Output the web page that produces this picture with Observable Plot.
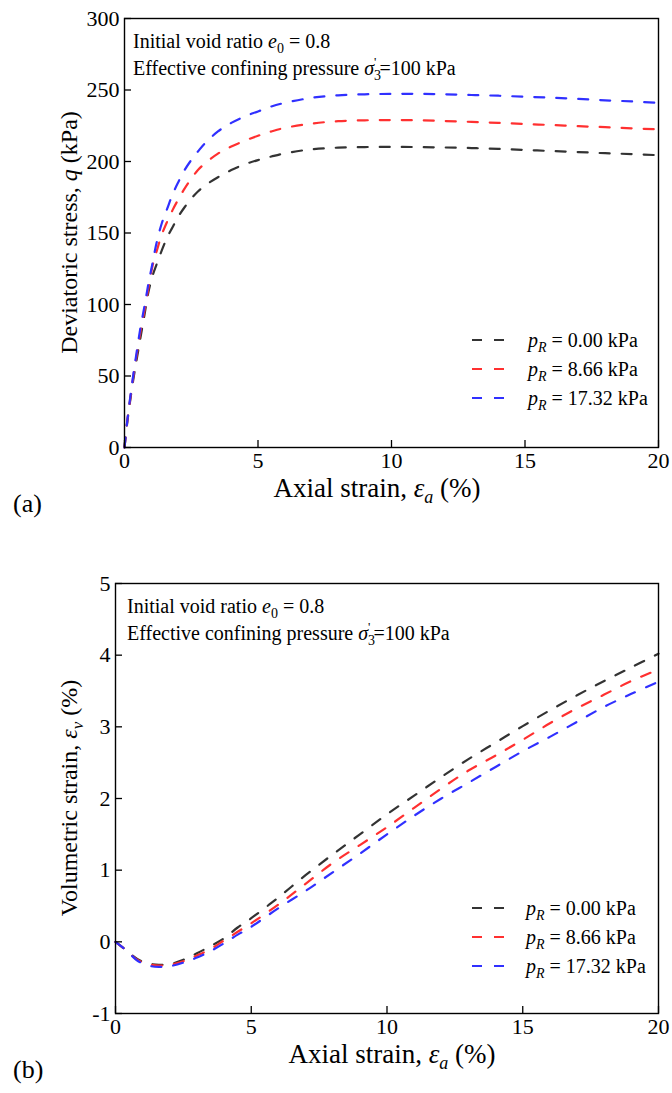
<!DOCTYPE html>
<html><head><meta charset="utf-8">
<script src="https://cdn.jsdelivr.net/npm/d3@7"></script>
<script src="https://cdn.jsdelivr.net/npm/@observablehq/plot@0.6"></script>
<style>body{margin:0;background:#fff} svg{display:block}</style>
</head><body><div id="c"></div>
<script>
// ---------- data ----------
const seriesLabels = ["0.00", "8.66", "17.32"];
const xTicks = [0, 5, 10, 15, 20];
const qTicks = [0, 50, 100, 150, 200, 250, 300];
const evTicks = [-1, 0, 1, 2, 3, 4, 5];

const strainA = [0,0.1,0.2,0.3,0.45,0.6,0.75,0.9,1.05,1.2,1.4,1.6,1.8,2.0,2.25,2.5,2.75,3,3.5,4,4.5,5,5.5,6,7,8,9,10,11,12,13,14,15,16,17,18,19,20];
const qBlack = [0,17,31,44,61,77,93,109,120,128,138,147,154,161,168,174,179,183,189,194,198,201,203.5,205.7,208.5,209.7,210.1,210.2,210.1,209.8,209.4,208.8,208.1,207.3,206.6,205.8,205.2,204.4];
const qRed   = [0,18,32,46,64,81,96,112,127,137,149,158,166,173,181,188,194,198.5,205.5,210.5,214.5,218,221,223.5,226.5,228.2,228.8,229,228.8,228.3,227.7,227,226.2,225.5,224.7,224,223.2,222.5];
const qBlue  = [0,18,33,47,66,84,99,115,129,143,157,167,177,185,194,201,207,212.5,221,227,231.5,235,238.5,241,244.5,246.3,247,247.3,247.3,247,246.5,246,245.3,244.6,243.8,242.8,242,241];

const strainB = [0,0.4,0.8,1.2,1.6,2.0,2.5,3,3.5,4,4.5,5,6,7,8,9,10,11,12,13,14,15,16,17,18,19,20];
const evBlack = [0,-0.12,-0.24,-0.30,-0.32,-0.31,-0.25,-0.16,-0.06,0.05,0.20,0.33,0.62,0.93,1.22,1.50,1.78,2.04,2.30,2.55,2.78,3.01,3.23,3.44,3.64,3.83,4.02];
const evRed   = [0,-0.12,-0.25,-0.31,-0.33,-0.32,-0.27,-0.19,-0.10,0.02,0.14,0.26,0.52,0.81,1.10,1.35,1.60,1.87,2.14,2.39,2.60,2.82,3.05,3.26,3.45,3.64,3.80];
const evBlue  = [0,-0.12,-0.26,-0.33,-0.35,-0.34,-0.29,-0.22,-0.13,-0.02,0.10,0.21,0.47,0.71,0.97,1.23,1.50,1.76,2.00,2.22,2.44,2.66,2.86,3.07,3.28,3.46,3.63];

// ---------- styles ----------
const FONT = "'Liberation Serif', 'Times New Roman', serif";
const colors = ["#333333", "#ff3030", "#3030ff"];
const DASH = "10,12";

function table(xs, ys, lab) { return xs.map((x, i) => ({x, y: ys[i], s: lab})); }
const dataA = [...table(strainA, qBlack, seriesLabels[0]), ...table(strainA, qRed, seriesLabels[1]), ...table(strainA, qBlue, seriesLabels[2])];
const dataB = [...table(strainB, evBlack, seriesLabels[0]), ...table(strainB, evRed, seriesLabels[1]), ...table(strainB, evBlue, seriesLabels[2])];

function rich(sel, x, y, parts, o = {}) {
  const t = sel.append("text").attr("x", x).attr("y", y)
    .attr("font-family", FONT).attr("font-size", o.size || 20).attr("fill", "#000")
    .attr("text-anchor", o.anchor || "start");
  if (o.rotate) t.attr("transform", `rotate(-90 ${x} ${y})`);
  for (const p of parts) {
    const s = t.append("tspan").text(p.t);
    if (p.i) s.attr("font-style", "italic");
    if (p.dy) s.attr("dy", p.dy);
    if (p.dx) s.attr("dx", p.dx);
    if (p.fs) s.attr("font-size", p.fs);
  }
  return t;
}

function panel(cfg) {
  const W = 672;
  const innerW = W - cfg.ml - cfg.mr;
  const innerH = cfg.h - cfg.mt - cfg.mb;
  const chart = Plot.plot({
    width: W, height: cfg.h,
    marginTop: cfg.mt, marginBottom: cfg.mb, marginLeft: cfg.ml, marginRight: cfg.mr,
    style: {fontFamily: FONT, fontSize: "22px", color: "#000", background: "#fff", overflow: "visible"},
    x: {domain: [0, 20]},
    y: {domain: cfg.ydomain},
    color: {domain: seriesLabels, range: colors},
    marks: [
      Plot.line(cfg.data, {x: "x", y: "y", stroke: "s", strokeWidth: 2.2, strokeDasharray: DASH, curve: "catmull-rom"}),
      Plot.tickX(xTicks, {x: d => d, insetTop: innerH - 7, stroke: "#000", strokeWidth: 1.3}),
      Plot.tickY(cfg.yticks, {y: d => d, insetRight: innerW - 7, stroke: "#000", strokeWidth: 1.3}),
      Plot.frame({stroke: "#000", strokeWidth: 1.4}),
      Plot.axisX({ticks: xTicks, tickSize: 0, tickPadding: 5, label: null, fontSize: 22, tickFormat: d => String(d)}),
      Plot.axisY({ticks: cfg.yticks, tickSize: 0, tickPadding: 5, label: null, fontSize: 22, tickFormat: d => String(d)})
    ]
  });
  const svg = d3.select(chart);
  const axisY = cfg.h - cfg.mb;
  // axis titles
  rich(svg, cfg.xtc, axisY + 50,
    [{t: "Axial strain, "}, {t: "ε", i: true}, {t: "a", i: true, dy: 6, fs: 18}, {t: " (%)", dy: -6}],
    {size: 27, anchor: "middle"});
  rich(svg, 77, cfg.mt + innerH / 2, cfg.ytitle, {size: 24, anchor: "middle", rotate: true});
  // panel letter
  rich(svg, 13, axisY + 65, [{t: cfg.letter}], {size: 26});
  // annotation
  rich(svg, cfg.ax, cfg.mt + 30, [{t: "Initial void ratio "}, {t: "e", i: true}, {t: "0", dy: 5, fs: 14}, {t: " = 0.8", dy: -5}]);
  rich(svg, cfg.ax, cfg.mt + 57, [{t: "Effective confining pressure "}, {t: "σ", i: true}, {t: "3", dy: 5, fs: 14},
    {t: "'", dx: -7, dy: -14, fs: 13}, {t: "=100 kPa", dx: 3, dy: 9}]);
  // legend
  cfg.legendY.forEach((ly, i) => {
    svg.append("line").attr("x1", 472).attr("x2", 504).attr("y1", ly).attr("y2", ly)
      .attr("stroke", colors[i]).attr("stroke-width", 2.2).attr("stroke-dasharray", DASH);
    rich(svg, cfg.lx, ly + 7, [{t: "p", i: true}, {t: "R", i: true, dy: 5, fs: 14}, {t: " = " + seriesLabels[i] + " kPa", dy: -5}]);
  });
  return chart;
}

const c = document.getElementById("c");
c.appendChild(panel({
  h: 530, mt: 18, mb: 83, ml: 124, mr: 14, ydomain: [0, 300], yticks: qTicks, data: dataA,
  ax: 133, lx: 528, xtc: 377,
  ytitle: [{t: "Deviatoric stress, "}, {t: "q", i: true}, {t: " (kPa)"}],
  letter: "(a)", legendY: [340, 369, 398]
}));
c.appendChild(panel({
  h: 563, mt: 53, mb: 80, ml: 115, mr: 14, ydomain: [-1, 5], yticks: evTicks, data: dataB,
  ax: 127, lx: 526, xtc: 392,
  ytitle: [{t: "Volumetric strain, "}, {t: "ε", i: true}, {t: "v", i: true, dy: 6, fs: 17}, {t: " (%)", dy: -6}],
  letter: "(b)", legendY: [908 - 530, 937 - 530, 966 - 530]
}));
</script></body></html>
